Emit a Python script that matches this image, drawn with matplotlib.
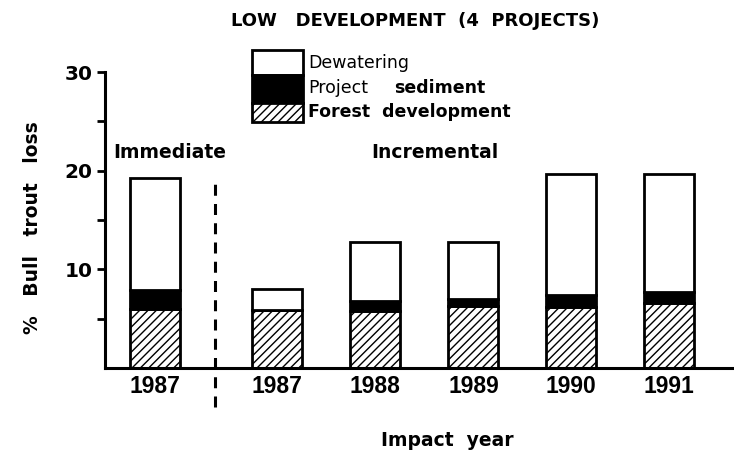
import matplotlib
matplotlib.use("Agg")
import matplotlib.pyplot as plt
from matplotlib.patches import Rectangle
import numpy as np

plt.rcParams['font.family'] = ['DejaVu Sans']
plt.rcParams['hatch.linewidth'] = 1.0

# ---- data ----
categories = ['1987', '1987', '1988', '1989', '1990', '1991']
forest = [6.0, 5.9, 5.8, 6.3, 6.2, 6.6]
sediment = [1.9, 0.0, 1.0, 0.7, 1.2, 1.1]
dewatering = [11.4, 2.1, 6.0, 5.8, 12.3, 12.0]
positions = [0, 1.25, 2.25, 3.25, 4.25, 5.25]
separator_x = 0.61

W, H = 734, 455
fig = plt.figure(figsize=(W / 100, H / 100), dpi=100)

def fx(x):
    return x / W

def fy(y):
    return 1 - y / H

ax = fig.add_axes([fx(105), fy(368), fx(734) - fx(105), fy(72) - fy(368)])

bw = 0.51
ax.bar(positions, forest, width=bw, color='white', edgecolor='black',
       linewidth=2, hatch='////', zorder=2)
ax.bar(positions, sediment, width=bw, bottom=forest, color='black',
       edgecolor='black', linewidth=2, zorder=2)
bottom2 = np.array(forest) + np.array(sediment)
ax.bar(positions, dewatering, width=bw, bottom=bottom2, color='white',
       edgecolor='black', linewidth=2, zorder=2)

ax.set_xlim(-0.51, 5.91)
ax.set_ylim(0, 30)

for s in ['top', 'right']:
    ax.spines[s].set_visible(False)
for s in ['left', 'bottom']:
    ax.spines[s].set_linewidth(2.2)

ax.set_yticks([10, 20, 30])
ax.set_yticks([5, 15, 25], minor=True)
ax.tick_params(axis='y', which='both', direction='out', length=6, width=2,
               labelsize=14.5, pad=3)
for lab in ax.get_yticklabels():
    lab.set_fontweight('bold')

ax.set_xticks(positions)
ax.set_xticklabels(categories, fontsize=16.5, fontweight='bold',
                   family=['Liberation Sans', 'DejaVu Sans'])
ax.tick_params(axis='x', length=0, pad=5)

# separator dashed line
ax.plot([separator_x, separator_x], [-3.95, 19.25], color='black', lw=2.2,
        dashes=(3.6, 2.7), clip_on=False, zorder=3)

# annotations
fig.text(fx(170), fy(153), 'Immediate', ha='center', va='center',
         fontsize=13.5, fontweight='bold')
fig.text(fx(435), fy(153), 'Incremental', ha='center', va='center',
         fontsize=13.5, fontweight='bold')

fig.text(fx(415), fy(21), 'LOW   DEVELOPMENT  (4  PROJECTS)', ha='center',
         va='center', fontsize=13, fontweight='bold')

fig.text(fx(33), fy(228), '%   Bull   trout   loss', ha='center', va='center',
         rotation=90, fontsize=13.5, fontweight='bold')
fig.text(fx(447), fy(440), 'Impact  year', ha='center', va='center',
         fontsize=13.5, fontweight='bold')

# legend (manual)
lx0, lx1 = 252, 303
rows = [(50, 75, 'white', None), (75, 103, 'black', None), (103, 122, 'white', '////')]
for (y0, y1, col, hat) in rows:
    r = Rectangle((fx(lx0), fy(y1)), fx(lx1) - fx(lx0), fy(y0) - fy(y1),
                  transform=fig.transFigure, facecolor=col, edgecolor='black',
                  linewidth=2, hatch=hat)
    fig.patches.append(r)

fig.text(fx(308), fy(63), 'Dewatering', ha='left', va='center', fontsize=12.5)
fig.text(fx(308), fy(88), 'Project', ha='left', va='center', fontsize=12.5)
fig.text(fx(394), fy(88), 'sediment', ha='left', va='center', fontsize=12.5,
         fontweight='bold')
fig.text(fx(308), fy(112), 'Forest  development', ha='left', va='center',
         fontsize=12.5, fontweight='bold')

fig.savefig('out.png', dpi=100)
